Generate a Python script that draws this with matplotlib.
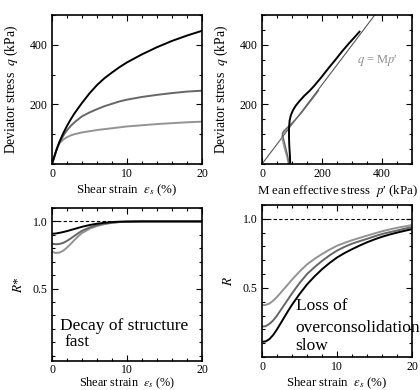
import numpy as np
import matplotlib
matplotlib.use('Agg')
import matplotlib.pyplot as plt
from matplotlib.ticker import MultipleLocator

plt.rcParams['font.family'] = ['Liberation Serif', 'DejaVu Serif']
plt.rcParams['mathtext.fontset'] = 'stix'
plt.rcParams['font.size'] = 8

# q - shear strain (three specimens: black, dark grey, light grey)
eps_q = [0, 0.25, 0.5, 0.75, 1, 1.5, 2, 2.5, 3, 4, 5, 6, 7, 8, 9, 10, 12, 14, 16, 18, 20]
q_black = [0, 20, 40, 58, 75, 103, 128, 150, 170, 205, 237, 265, 288, 307, 325, 341, 368, 392, 413, 431, 447]
q_mid = [0, 20, 40, 57, 72, 95, 113, 128, 140, 160, 173, 184, 194, 202, 210, 216, 225, 232, 238, 243, 246]
q_light = [0, 20, 40, 58, 70, 82, 90, 96, 100, 106, 110, 114, 117, 120, 123, 126, 130, 134, 137, 140, 142]

# stress paths p' - q
p_black = [94, 93, 91, 90, 90, 92, 96, 103, 112, 124, 140, 158, 172, 197, 222, 245, 267, 290, 310, 325]
qp_black = [0, 30, 60, 90, 120, 145, 163, 180, 195, 210, 228, 245, 260, 290, 322, 350, 378, 405, 427, 444]
p_mid = [90, 86, 80, 74, 69, 68, 72, 82, 96, 112, 130, 150, 170, 188]
qp_mid = [0, 25, 50, 75, 95, 103, 110, 120, 133, 150, 170, 196, 222, 246]
p_light = [88, 84, 78, 72, 67, 66, 70, 78, 88, 98, 107]
qp_light = [0, 20, 42, 65, 85, 93, 101, 110, 121, 132, 142]
M = 1.33
p_csl = [0, 500]

# R* (decay of structure)
eps_r = [0, 0.5, 1, 1.5, 2, 2.5, 3, 3.5, 4, 5, 6, 7, 8, 9, 10, 12, 14, 20]
rs_black = [.908, .910, .915, .921, .928, .936, .944, .952, .960, .973, .983, .990, .995, .998, .999, 1, 1, 1]
rs_mid = [.834, .830, .832, .840, .855, .873, .893, .912, .930, .955, .972, .984, .991, .996, .998, 1, 1, 1]
rs_light = [.773, .765, .768, .782, .805, .833, .862, .890, .913, .945, .966, .980, .989, .995, .998, 1, 1, 1]

# R (loss of overconsolidation)
eps_R = [0, 0.5, 1, 1.5, 2, 2.5, 3, 3.5, 4, 5, 6, 7, 8, 9, 10, 11, 12, 13, 14, 15, 16, 17, 18, 19, 20]
r_black = [.11, .113, .13, .16, .20, .245, .29, .335, .378, .455, .525, .583, .635, .68, .72, .752, .78, .806, .83, .851, .87, .886, .90, .913, .925]
r_mid = [.22, .223, .24, .265, .30, .34, .38, .42, .46, .535, .60, .65, .695, .735, .77, .797, .82, .838, .855, .873, .89, .903, .915, .928, .94]
r_light = [.375, .377, .387, .408, .435, .465, .497, .528, .56, .618, .67, .71, .745, .777, .805, .826, .845, .862, .878, .894, .91, .923, .935, .945, .955]

c_black = 'black'
c_mid = '#666666'
c_light = '#939393'
lw = 1.4

W, H = 420, 390
fig = plt.figure(figsize=(W / 100, H / 100), dpi=100)

def px_axes(x0, y0, x1, y1):
    return fig.add_axes([x0 / W, 1 - y1 / H, (x1 - x0) / W, (y1 - y0) / H])

def style(ax, xpad=3):
    ax.tick_params(which='both', direction='in', top=True, right=True, labelsize=8.5, pad=3)
    ax.tick_params(axis='x', which='both', pad=xpad)
    ax.tick_params(which='major', length=4, width=0.8)
    ax.tick_params(which='minor', length=2.5, width=0.8)
    for s in ax.spines.values():
        s.set_linewidth(1.2)

xlab = r'Shear strain  $\varepsilon_s$ (%)'
fs_lab = 9.3

# top left
ax1 = px_axes(52, 15, 202, 164)
ax1.plot(eps_q, q_light, color=c_light, lw=lw)
ax1.plot(eps_q, q_mid, color=c_mid, lw=lw)
ax1.plot(eps_q, q_black, color=c_black, lw=lw)
ax1.set_xlim(0, 20)
ax1.set_ylim(0, 500)
ax1.set_yticks([200, 400])
ax1.xaxis.set_major_locator(MultipleLocator(10))
ax1.xaxis.set_minor_locator(MultipleLocator(2))
ax1.yaxis.set_minor_locator(MultipleLocator(100))
ax1.set_xlabel(xlab, labelpad=2, fontsize=fs_lab)
ax1.set_ylabel(r'Deviator stress  $q$ (kPa)', labelpad=7, fontsize=9.8)
style(ax1)

# top right
ax2 = px_axes(262, 15, 412, 164)
ax2.plot(p_csl, [M * p for p in p_csl], color='#555555', lw=0.8)
ax2.plot(p_light, qp_light, color=c_light, lw=1.0)
ax2.plot(p_mid, qp_mid, color=c_mid, lw=1.0)
ax2.plot(p_black, qp_black, color=c_black, lw=lw)
ax2.set_xlim(0, 500)
ax2.set_ylim(0, 500)
ax2.set_xticks([0, 200, 400])
ax2.set_yticks([200, 400])
ax2.xaxis.set_minor_locator(MultipleLocator(50))
ax2.yaxis.set_minor_locator(MultipleLocator(50))
ax2.set_xlabel("M ean effective stress  $p$\u2032 (kPa)", labelpad=2, fontsize=fs_lab)
ax2.set_ylabel(r'Deviator stress  $q$ (kPa)', labelpad=7, fontsize=9.8)
ax2.text(316, 346, "$q$ = M$p$\u2032", color='#8c8c8c', fontsize=9, va='center')
style(ax2)

# bottom left
ax3 = px_axes(52, 208, 202, 361)
ax3.axhline(1.0, color='black', lw=0.8, ls=(0, (3, 2)))
ax3.plot(eps_r, rs_light, color=c_light, lw=lw)
ax3.plot(eps_r, rs_mid, color=c_mid, lw=lw)
ax3.plot(eps_r, rs_black, color=c_black, lw=lw)
ax3.set_xlim(0, 20)
ax3.set_ylim(-0.04, 1.1)
ax3.set_yticks([0.5, 1.0])
ax3.xaxis.set_major_locator(MultipleLocator(10))
ax3.xaxis.set_minor_locator(MultipleLocator(2))
ax3.yaxis.set_minor_locator(MultipleLocator(0.1))
ax3.set_xlabel(xlab, labelpad=0, fontsize=8.8)
ax3.set_ylabel(r'$R$*', labelpad=6, fontsize=9.5)
ax3.text(1.0, 0.19, 'Decay of structure', fontsize=12.5)
ax3.text(1.7, 0.07, 'fast', fontsize=12.5)
style(ax3, xpad=2)

# bottom right
ax4 = px_axes(262, 205, 412, 357)
ax4.axhline(1.0, color='black', lw=0.8, ls=(0, (3, 2)))
ax4.plot(eps_R, r_light, color=c_light, lw=lw)
ax4.plot(eps_R, r_mid, color=c_mid, lw=lw)
ax4.plot(eps_R, r_black, color=c_black, lw=lw)
ax4.set_xlim(0, 20)
ax4.set_ylim(0, 1.1)
ax4.set_yticks([0.5, 1.0])
ax4.xaxis.set_major_locator(MultipleLocator(10))
ax4.xaxis.set_minor_locator(MultipleLocator(2))
ax4.yaxis.set_minor_locator(MultipleLocator(0.1))
ax4.set_xlabel(xlab, labelpad=2, fontsize=fs_lab)
ax4.set_ylabel(r'$R$', labelpad=6, fontsize=9.5)
ax4.text(4.5, 0.34, 'Loss of', fontsize=12.5)
ax4.text(4.5, 0.18, 'overconsolidation', fontsize=12.5)
ax4.text(4.5, 0.054, 'slow', fontsize=12.5)
style(ax4)

plt.savefig('out.png', dpi=100)
